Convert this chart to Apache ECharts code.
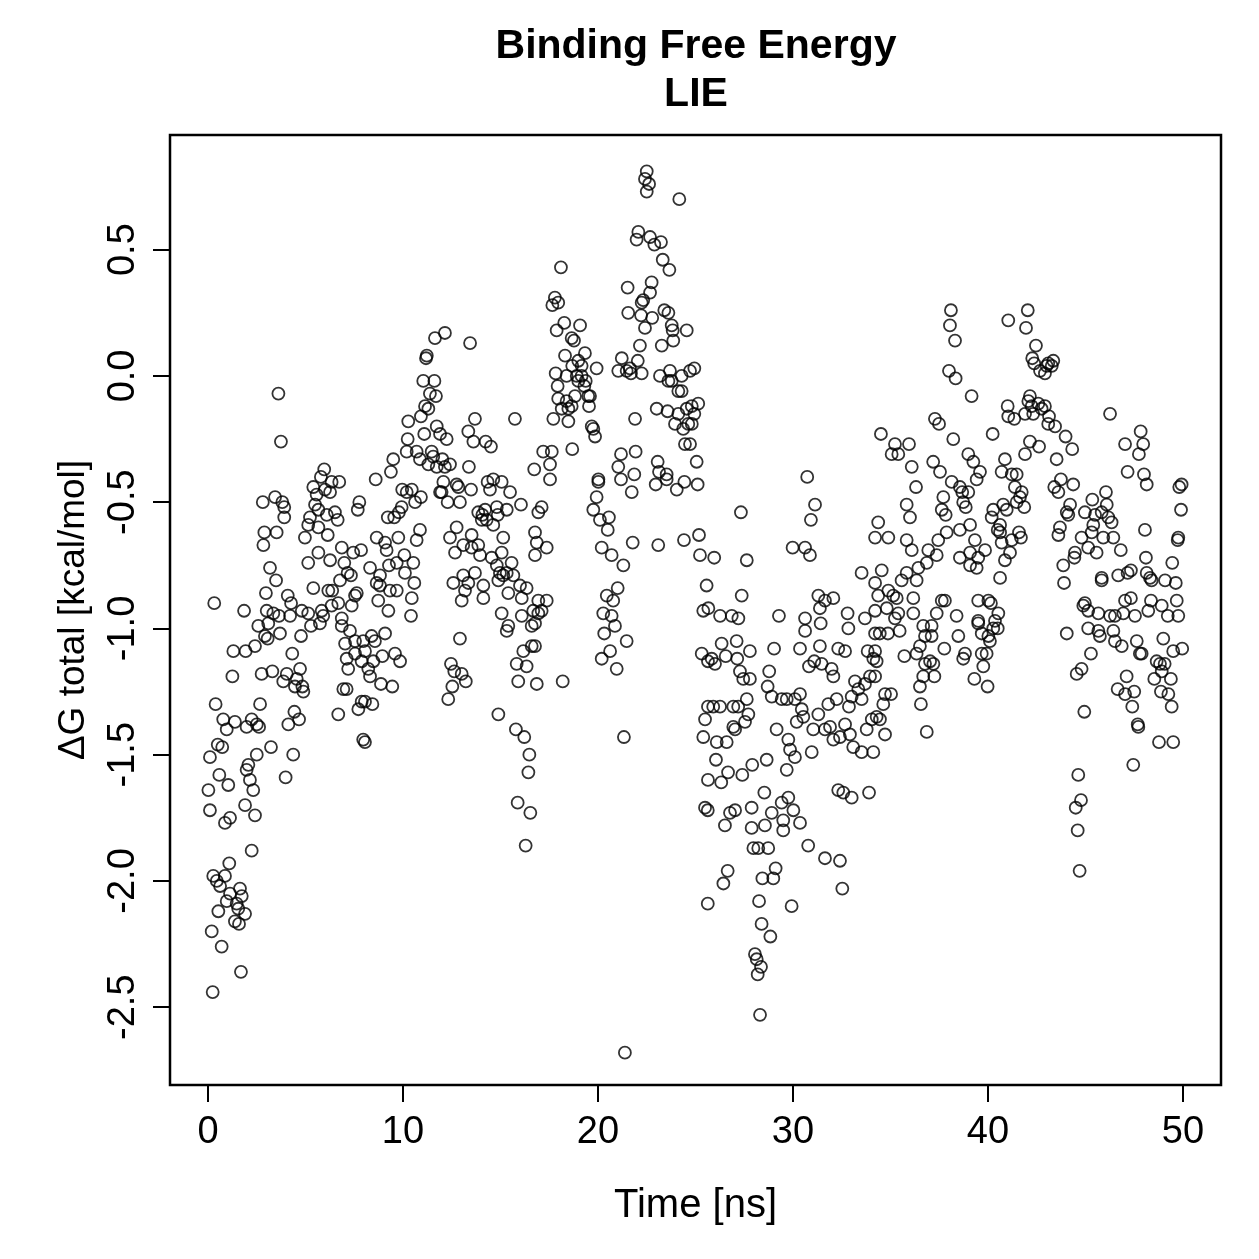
<!DOCTYPE html>
<html>
<head>
<meta charset="utf-8">
<title>Binding Free Energy - LIE</title>
<script src="https://cdn.jsdelivr.net/npm/echarts@6.0.0/dist/echarts.min.js"></script>
<style>
  html, body { margin: 0; padding: 0; background: #fff; }
  #chart { width: 1259px; height: 1259px; }
</style>
</head>
<body>
<div id="chart"></div>
<script>
// [time (ns), dG total (kcal/mol)], grouped by time window
var seg0to8 = [
  [3.61,-0.07],[3.74,-0.26],[5.96,-0.37],[5.79,-0.40],[5.40,-0.44],[6.34,-0.42],[6.73,-0.42],[6.00,-0.45],[6.26,-0.46],[5.57,-0.47],
  [2.81,-0.50],[3.44,-0.48],[3.81,-0.50],[3.91,-0.52],[3.91,-0.56],[5.49,-0.51],[5.66,-0.53],[6.09,-0.55],[6.51,-0.54],[6.65,-0.57],
  [5.23,-0.56],[5.14,-0.59],[5.66,-0.60],[6.14,-0.63],[4.97,-0.64],[7.76,-0.50],[7.68,-0.53],[2.89,-0.62],[2.84,-0.67],[3.52,-0.62],
  [6.86,-0.68],[7.85,-0.69],[7.45,-0.70],[6.26,-0.73],[5.66,-0.70],[5.14,-0.74],[6.99,-0.74],[3.18,-0.76],[3.49,-0.81],[7.16,-0.78],
  [7.33,-0.79],[6.77,-0.81],[5.40,-0.84],[2.97,-0.86],[0.32,-0.90],[1.85,-0.93],[4.09,-0.87],[4.26,-0.90],[6.17,-0.85],[6.37,-0.85],
  [6.68,-0.90],[6.34,-0.91],[7.63,-0.86],[7.54,-0.87],[7.37,-0.91],[3.01,-0.93],[3.35,-0.94],[4.81,-0.93],[5.14,-0.94],[5.83,-0.93],
  [5.91,-0.95],[6.86,-0.96],
  [4.21,-0.95],[3.64,-0.95],[2.58,-0.99],[3.09,-0.98],[2.92,-1.03],[3.06,-1.04],[3.69,-1.02],[4.77,-1.03],[5.28,-0.99],[5.74,-0.98],
  [6.86,-0.99],[7.28,-1.01],[7.03,-1.06],[7.54,-1.05],[7.96,-1.05],[7.54,-1.10],[7.11,-1.12],[7.88,-1.13],[7.19,-1.16],
  [1.30,-1.09],[1.93,-1.09],[2.41,-1.07],[4.32,-1.10],[1.25,-1.19],[2.75,-1.18],[3.30,-1.17],[4.04,-1.18],[3.86,-1.21],[4.72,-1.16],
  [4.55,-1.20],[4.46,-1.23],[4.84,-1.23],[4.89,-1.25],[6.94,-1.24],[7.11,-1.24],[7.88,-1.29],[7.71,-1.32],[6.68,-1.34],[0.39,-1.30],
  [2.67,-1.30],[0.78,-1.36],[1.38,-1.37],[0.96,-1.40],[1.98,-1.39],[2.24,-1.36],[2.50,-1.38],[2.62,-1.39],[4.43,-1.33],[4.67,-1.36],
  [4.12,-1.38],[7.96,-1.44],[8.05,-1.45],[0.50,-1.46],[0.73,-1.47],[0.10,-1.51],[3.23,-1.47],[2.50,-1.50],[4.37,-1.50],[2.07,-1.54],
  [1.98,-1.56],[2.15,-1.60],[3.98,-1.59],[0.58,-1.58],[1.04,-1.62],[0.02,-1.64],[2.32,-1.64],[0.10,-1.72],[1.90,-1.70],[2.41,-1.74],
  [1.13,-1.75],[0.87,-1.77],[2.24,-1.88],[1.09,-1.93],[0.27,-1.98],[0.45,-2.00],[0.87,-1.98],[0.62,-2.02],[1.13,-2.05],[1.64,-2.03],
  [1.73,-2.06],[0.96,-2.08],[1.47,-2.09],[1.55,-2.11],[0.53,-2.12],[1.90,-2.13],[1.38,-2.16],[1.59,-2.17],[0.19,-2.20],[0.70,-2.26],
  [1.69,-2.36],[0.24,-2.44]
];
var seg8to17 = [
  [12.15,0.17],[11.64,0.15],[13.44,0.13],[11.22,0.08],[11.18,0.07],[11.04,-0.02],[11.61,-0.02],[11.38,-0.07],[11.69,-0.08],[11.13,-0.12],
  [11.30,-0.13],[10.92,-0.16],[10.27,-0.18],[13.69,-0.17],[15.74,-0.17],[11.73,-0.20],[11.09,-0.23],[11.90,-0.23],[12.24,-0.25],[13.35,-0.22],
  [13.61,-0.26],[14.24,-0.26],[14.51,-0.28],[10.24,-0.25],[10.19,-0.30],[10.70,-0.30],[10.87,-0.33],[11.47,-0.30],[11.55,-0.32],[11.30,-0.35],
  [11.73,-0.36],[12.02,-0.33],[12.15,-0.36],[12.41,-0.35],[9.50,-0.33],[9.38,-0.38],[8.60,-0.41],[13.38,-0.36],[16.73,-0.37],
  [12.07,-0.42],[12.75,-0.43],[12.84,-0.44],[13.49,-0.45],[11.98,-0.46],[11.90,-0.46],[12.29,-0.50],[12.92,-0.50],[14.34,-0.42],[14.63,-0.41],
  [15.06,-0.42],[14.46,-0.45],[15.49,-0.46],[9.96,-0.45],[10.19,-0.46],[10.45,-0.45],[10.92,-0.48],[10.62,-0.50],[9.93,-0.52],[9.79,-0.54],
  [9.55,-0.56],[9.22,-0.56],[13.86,-0.54],[14.07,-0.55],[14.21,-0.53],[14.29,-0.57],[14.86,-0.55],[14.81,-0.52],[15.32,-0.53],[16.05,-0.51],
  [16.94,-0.54],[14.04,-0.57],[14.63,-0.59],[15.14,-0.64],[12.75,-0.60],[12.41,-0.64],[13.52,-0.63],[13.09,-0.67],[13.86,-0.67],[13.52,-0.68],
  [12.67,-0.70],[13.95,-0.71],[14.55,-0.72],[15.06,-0.70],[10.87,-0.61],[10.70,-0.65],[9.76,-0.64],[8.65,-0.64],[9.08,-0.66],[9.16,-0.69],
  [10.07,-0.71],[10.53,-0.74],[9.68,-0.74],[9.28,-0.75],[8.31,-0.76],[16.77,-0.62],[16.77,-0.71],[15.57,-0.74],[14.81,-0.75],[14.97,-0.78],
  [15.32,-0.78],[15.66,-0.79],[15.14,-0.79],[14.89,-0.81],[13.69,-0.78],[12.58,-0.82],[13.09,-0.79],[13.35,-0.82],[13.18,-0.85],[14.12,-0.83],
  [13.01,-0.89],[14.12,-0.88],[15.40,-0.86],[16.00,-0.83],[16.34,-0.84],[16.09,-0.88],[8.82,-0.79],[8.65,-0.82],[8.82,-0.83],[9.33,-0.85],
  [9.68,-0.85],[10.10,-0.78],[10.58,-0.82],[10.45,-0.88],[8.73,-0.89],[9.25,-0.93],[10.41,-0.95],[15.06,-0.94],[16.09,-0.95],[16.68,-0.93],
  [16.94,-0.89],
  [16.94,-0.94],[15.40,-0.99],[15.32,-1.01],[16.60,-0.99],[8.39,-1.03],[9.08,-1.02],[8.56,-1.05],[8.05,-1.09],[8.94,-1.11],[9.59,-1.10],
  [9.85,-1.13],[8.48,-1.13],[8.22,-1.16],[8.31,-1.19],[8.87,-1.22],[9.45,-1.23],[8.43,-1.30],[8.05,-1.29],[12.92,-1.04],[12.46,-1.14],
  [12.63,-1.17],[13.01,-1.18],[13.22,-1.21],[12.53,-1.23],[12.32,-1.28],[16.17,-1.09],[16.60,-1.07],[15.83,-1.14],[16.34,-1.15],[15.91,-1.21],
  [16.86,-1.22],[14.89,-1.34],[15.79,-1.40],[16.22,-1.43],[16.48,-1.50],[16.43,-1.57],[15.88,-1.69],[16.53,-1.73],[16.29,-1.86]
];
var seg17to26 = [
  [22.50,0.81],[22.41,0.78],[22.62,0.76],[22.50,0.73],[24.17,0.70],[22.07,0.57],[21.98,0.54],[22.67,0.55],[22.89,0.52],[23.23,0.53],
  [23.32,0.46],[23.66,0.42],[18.10,0.43],[21.52,0.35],[22.75,0.37],[22.67,0.33],[22.32,0.30],[22.24,0.29],[17.79,0.31],[17.96,0.29],
  [17.66,0.28],[21.55,0.25],[22.21,0.24],[22.78,0.23],[23.40,0.26],[23.61,0.25],[22.41,0.19],[23.78,0.20],[23.83,0.18],[24.55,0.18],
  [23.86,0.14],[23.27,0.12],[22.15,0.12],[18.27,0.21],[19.08,0.20],[17.88,0.18],[18.65,0.15],[18.77,0.14],[18.31,0.08],[19.33,0.09],
  [18.99,0.06],[19.16,0.04],[18.68,0.04],[19.93,0.03],[17.83,0.01],[18.39,0.00],[18.91,0.00],[19.16,0.00],[19.37,-0.02],[18.99,-0.02],
  [19.30,-0.04],[17.93,-0.04],[18.82,-0.08],[19.50,-0.08],[19.59,-0.08],[17.96,-0.09],[18.39,-0.10],[18.65,-0.12],[18.48,-0.13],[18.14,-0.13],
  [19.54,-0.12],[17.71,-0.17],[18.48,-0.18],[19.68,-0.20],[19.76,-0.21],[19.85,-0.24],[21.22,0.07],[21.04,0.02],[21.47,0.02],[21.64,0.03],
  [21.69,0.01],[22.04,0.06],[22.24,0.01],[23.18,0.00],[23.69,0.02],[23.61,-0.02],[23.78,-0.02],[24.29,0.00],[24.72,0.02],[24.94,0.03],
  [24.12,-0.06],[24.29,-0.06],[21.90,-0.17],[23.01,-0.13],[23.57,-0.14],[24.12,-0.15],[24.55,-0.13],[24.81,-0.12],[25.14,-0.11],[24.94,-0.15],
  [23.95,-0.19],[24.37,-0.21],[24.63,-0.19],[24.81,-0.19],[24.46,-0.27],[24.72,-0.27],[25.06,-0.34],[17.19,-0.30],[17.63,-0.30],[18.68,-0.29],
  [17.54,-0.35],[17.54,-0.41],[21.18,-0.31],[21.93,-0.30],[21.04,-0.36],[21.18,-0.41],[21.86,-0.39],[21.73,-0.46],[23.06,-0.34],[23.13,-0.38],
  [23.52,-0.39],[23.52,-0.41],[22.96,-0.43],[24.04,-0.45],[24.43,-0.42],[25.11,-0.43],[20.02,-0.41],[20.02,-0.42],[19.93,-0.48],[19.76,-0.53],
  [20.10,-0.57],[20.56,-0.56],[20.50,-0.61],[17.11,-0.52],[16.86,-0.66],[17.37,-0.68],[20.19,-0.68],[20.70,-0.71],[21.30,-0.75],[21.78,-0.66],
  [23.09,-0.67],[24.41,-0.65],[25.18,-0.63],[25.23,-0.71],[25.57,-0.83],[21.01,-0.84],[20.45,-0.87],[20.78,-0.89],[20.27,-0.94],[20.70,-0.95],
  [17.37,-0.89],[17.11,-0.93],[25.40,-0.93],[25.66,-0.92],
  [16.77,-0.98],[16.77,-1.07],[18.19,-1.21],[20.87,-0.99],[20.32,-1.02],[21.47,-1.05],[20.62,-1.09],[20.19,-1.12],[20.96,-1.16],[21.33,-1.43],
  [21.38,-2.68],[25.32,-1.10],[25.49,-1.36],[25.40,-1.43],[25.64,-1.60],[25.49,-1.71],[25.63,-1.72],[25.63,-2.09],[25.64,-1.13],[25.64,-1.31]
];
var seg26to34 = [
  [30.73,-0.40],[31.13,-0.51],[30.92,-0.57],[27.33,-0.54],[29.98,-0.68],[30.62,-0.68],[30.87,-0.71],[27.63,-0.73],[25.96,-0.72],[33.52,-0.78],
  [27.37,-0.87],[31.30,-0.87],[31.64,-0.89],[32.07,-0.88],[31.38,-0.92],[34.21,-0.93],[29.28,-0.95],[32.80,-0.94],[26.26,-0.95],[26.86,-0.95],
  [27.20,-0.96],[30.62,-0.96],[33.69,-0.96],
  [31.42,-0.98],[30.62,-1.01],[32.84,-1.00],[34.21,-1.02],[26.34,-1.06],[27.11,-1.05],[27.79,-1.09],[26.55,-1.11],[25.83,-1.12],[26.00,-1.14],
  [27.14,-1.12],[29.03,-1.08],[30.36,-1.08],[31.38,-1.07],[32.32,-1.08],[32.67,-1.09],[33.83,-1.09],[34.12,-1.12],[28.78,-1.17],[27.28,-1.17],
  [27.45,-1.20],[27.79,-1.20],[28.70,-1.23],[28.91,-1.27],[29.42,-1.28],[29.68,-1.28],[30.10,-1.28],[30.36,-1.26],[30.82,-1.15],[31.09,-1.13],
  [31.47,-1.14],[31.98,-1.16],[32.07,-1.19],[33.18,-1.21],[33.35,-1.24],[33.69,-1.22],[33.95,-1.19],[33.01,-1.27],[33.52,-1.28],[32.87,-1.31],
  [31.81,-1.30],[32.24,-1.28],[30.45,-1.32],[30.53,-1.35],[31.30,-1.34],[30.19,-1.37],[31.04,-1.40],[31.64,-1.40],[31.90,-1.39],[32.07,-1.44],
  [32.41,-1.43],[32.67,-1.38],[32.92,-1.42],[33.09,-1.47],[33.52,-1.49],[34.12,-1.49],[33.78,-1.40],[34.04,-1.36],[34.29,-1.35],[29.16,-1.40],
  [29.76,-1.44],[29.85,-1.48],[30.10,-1.51],[30.96,-1.49],[25.91,-1.31],[26.26,-1.31],[26.94,-1.31],[27.19,-1.31],[27.63,-1.28],[27.71,-1.34],
  [27.54,-1.37],[26.94,-1.39],[27.03,-1.40],[26.09,-1.45],[26.60,-1.45],[26.05,-1.52],[26.32,-1.61],[26.67,-1.57],[27.40,-1.58],[27.91,-1.54],
  [28.65,-1.52],[29.68,-1.56],[28.53,-1.65],[29.76,-1.67],[29.42,-1.69],[30.02,-1.72],[28.91,-1.73],[29.50,-1.76],[30.36,-1.77],[26.51,-1.78],
  [26.77,-1.73],[27.03,-1.72],[27.88,-1.71],[27.88,-1.79],[28.56,-1.78],[29.50,-1.80],[27.97,-1.87],[28.22,-1.87],[28.73,-1.87],[30.78,-1.86],
  [31.64,-1.91],[32.41,-1.92],[32.53,-2.03],[26.65,-1.96],[26.43,-2.01],[28.43,-1.99],[28.99,-1.99],[29.11,-1.95],[28.26,-2.08],[29.93,-2.10],
  [28.39,-2.17],[28.84,-2.22],[28.05,-2.29],[28.14,-2.31],[28.36,-2.34],[28.19,-2.37],[28.31,-2.53],[32.32,-1.64],[32.58,-1.65],[33.01,-1.67],
  [33.90,-1.65]
];
var seg34to43 = [
  [38.10,0.26],[38.05,0.20],[38.31,0.14],[38.00,0.02],[38.34,-0.01],[39.16,-0.08],[42.04,0.26],[41.04,0.22],[41.95,0.19],[42.46,0.12],
  [42.27,0.07],[42.37,0.05],[42.67,0.02],[42.92,0.01],[43.01,0.04],[43.09,0.05],[37.28,-0.17],[37.49,-0.19],[41.01,-0.12],[41.04,-0.16],
  [41.35,-0.17],[42.15,-0.08],[42.07,-0.10],[41.90,-0.15],[42.24,-0.12],[42.58,-0.11],[42.75,-0.13],[42.92,-0.12],[42.32,-0.15],[43.09,-0.19],
  [34.51,-0.23],[35.23,-0.27],[35.95,-0.27],[35.06,-0.31],[35.40,-0.31],[36.09,-0.36],[38.22,-0.25],[40.24,-0.23],[42.15,-0.26],[42.62,-0.28],
  [41.90,-0.31],[37.19,-0.34],[37.54,-0.38],[38.99,-0.31],[39.25,-0.34],[39.59,-0.38],[39.42,-0.41],[40.87,-0.33],[40.70,-0.38],[41.22,-0.39],
  [41.47,-0.39],[41.38,-0.44],[41.73,-0.46],[41.64,-0.48],[36.31,-0.44],[38.14,-0.42],[38.56,-0.44],[38.68,-0.46],[38.99,-0.46],[37.71,-0.48],
  [35.83,-0.51],[36.00,-0.56],[37.63,-0.53],[37.83,-0.55],[38.73,-0.50],[38.86,-0.52],[40.27,-0.53],[40.78,-0.51],[40.96,-0.53],[41.47,-0.50],
  [41.86,-0.52],[40.19,-0.56],[40.62,-0.59],[40.50,-0.61],[34.37,-0.58],[34.21,-0.64],[34.89,-0.64],[35.83,-0.65],[36.09,-0.69],[37.45,-0.65],
  [37.88,-0.62],[38.56,-0.61],[39.08,-0.59],[39.33,-0.65],[39.85,-0.69],[39.50,-0.72],[38.56,-0.72],[39.08,-0.70],[39.08,-0.75],[39.42,-0.76],
  [40.62,-0.62],[41.22,-0.65],[41.59,-0.62],[41.69,-0.64],[40.70,-0.66],[41.13,-0.70],[40.87,-0.73],[40.62,-0.80],[36.94,-0.69],[36.86,-0.74],
  [37.37,-0.71],[36.43,-0.76],[34.55,-0.77],[35.83,-0.78],[35.57,-0.81],[36.34,-0.81],[34.89,-0.85],[35.14,-0.87],[35.32,-0.88],[34.21,-0.82],
  [34.37,-0.87],[36.17,-0.88],[37.63,-0.89],[37.79,-0.89],[39.50,-0.89],[40.02,-0.89],[40.15,-0.90],[34.81,-0.92],[35.40,-0.94],[36.17,-0.94],
  [37.37,-0.94],[38.39,-0.95],[40.53,-0.94],[39.50,-0.97],
  [35.23,-0.96],[34.45,-1.02],[34.87,-1.02],[35.47,-1.01],[36.68,-0.99],[37.11,-0.99],[36.77,-1.03],[37.11,-1.03],[38.48,-1.03],[39.50,-0.98],
  [39.68,-1.02],[40.02,-1.03],[40.10,-1.05],[40.36,-0.97],[40.27,-1.00],[40.50,-1.00],[34.21,-1.09],[34.29,-1.13],[35.71,-1.11],[36.34,-1.10],
  [36.51,-1.07],[37.76,-1.08],[36.77,-1.14],[37.03,-1.13],[37.20,-1.14],[38.82,-1.10],[38.73,-1.12],[39.68,-1.10],[39.93,-1.10],[39.76,-1.15],
  [36.68,-1.19],[37.25,-1.19],[36.51,-1.23],[39.30,-1.20],[39.98,-1.23],[34.21,-1.19],[34.72,-1.26],[35.03,-1.26],[34.63,-1.30],[36.56,-1.30],
  [34.46,-1.36],[34.72,-1.42],[36.86,-1.41]
];
var seg43to50 = [
  [43.35,0.06],[43.27,0.04],[43.13,-0.16],[43.44,-0.20],[46.26,-0.15],[43.98,-0.24],[44.32,-0.29],[43.52,-0.33],[47.03,-0.27],[47.83,-0.22],
  [47.96,-0.27],[47.74,-0.31],[47.16,-0.38],[48.00,-0.39],[48.14,-0.43],[43.74,-0.41],[43.40,-0.44],[43.61,-0.46],[44.37,-0.43],[49.93,-0.43],
  [49.81,-0.44],[49.90,-0.53],[45.35,-0.49],[46.05,-0.46],[46.09,-0.51],[45.49,-0.55],[44.97,-0.54],[45.83,-0.54],[46.17,-0.56],[46.34,-0.58],
  [45.40,-0.59],[45.32,-0.62],[45.91,-0.64],[46.43,-0.64],[44.80,-0.64],[45.14,-0.68],[45.57,-0.70],[44.21,-0.51],[44.04,-0.54],[44.12,-0.55],
  [43.69,-0.60],[43.61,-0.63],[44.46,-0.70],[44.43,-0.72],[43.86,-0.75],[43.90,-0.82],[46.81,-0.69],[48.05,-0.61],[48.10,-0.72],[49.45,-0.74],
  [49.76,-0.64],[49.73,-0.65],[46.68,-0.79],[47.16,-0.78],[47.33,-0.77],[45.83,-0.80],[45.83,-0.81],[48.14,-0.78],[48.31,-0.80],[48.39,-0.81],
  [49.08,-0.81],[49.63,-0.82],[44.97,-0.90],[44.89,-0.91],[45.14,-0.93],[45.66,-0.94],[46.26,-0.95],[46.51,-0.95],[46.94,-0.94],[47.03,-0.89],
  [47.33,-0.88],[47.54,-0.95],[48.36,-0.89],[48.22,-0.93],[48.91,-0.91],[49.22,-0.95],[49.68,-0.89],[49.76,-0.95],
  [44.04,-1.02],[45.14,-1.00],[45.66,-1.01],[45.74,-1.03],[46.43,-1.01],[46.51,-1.05],[46.86,-1.07],[47.63,-1.05],[47.88,-1.10],[47.79,-1.10],
  [48.99,-1.04],[49.50,-1.09],[49.96,-1.08],[45.28,-1.10],[48.65,-1.13],[48.82,-1.14],[48.91,-1.17],[49.06,-1.14],[48.53,-1.20],[49.38,-1.20],
  [48.87,-1.25],[49.25,-1.26],[49.42,-1.31],[44.80,-1.16],[44.55,-1.18],[47.11,-1.19],[46.65,-1.24],[47.03,-1.26],[47.50,-1.25],[47.40,-1.31],
  [44.94,-1.33],[47.68,-1.38],[47.71,-1.39],[48.77,-1.45],[49.50,-1.45],[47.45,-1.54],[44.63,-1.58],[44.77,-1.68],[44.50,-1.71],[44.60,-1.80],
  [44.70,-1.96]
];

var xTicks = [0, 10, 20, 30, 40, 50];
var yTicks = [-2.5, -2.0, -1.5, -1.0, -0.5, 0.0, 0.5];

var allPoints = seg0to8.concat(seg8to17, seg17to26, seg26to34, seg34to43, seg43to50);

var font = '"Liberation Sans", Arial, Helvetica, sans-serif';
var chart = echarts.init(document.getElementById('chart'), null, {renderer: 'canvas'});

var option = {
    backgroundColor: '#ffffff',
    animation: false,
    graphic: [
        {
            type: 'text', x: 696, y: 47,
            style: {text: 'Binding Free Energy', fill: '#000', font: 'bold 41px ' + font,
                textAlign: 'center', textVerticalAlign: 'middle'}
        },
        {
            type: 'text', x: 696, y: 95,
            style: {text: 'LIE', fill: '#000', font: 'bold 41px ' + font,
                textAlign: 'center', textVerticalAlign: 'middle'}
        }
    ],
    grid: {
        left: 170,
        right: 38,
        top: 135,
        bottom: 174,
        show: true,
        borderColor: '#000',
        borderWidth: 2.5,
        backgroundColor: 'transparent'
    },
    xAxis: {
        type: 'value',
        min: -1.949,
        max: 51.95,
        name: 'Time [ns]',
        nameLocation: 'middle',
        nameGap: 101,
        nameTextStyle: {fontSize: 40, color: '#000', fontFamily: font},
        axisLine: {show: false, onZero: false},
        splitLine: {show: false},
        axisTick: {
            show: true,
            length: 17,
            customValues: xTicks,
            lineStyle: {color: '#000', width: 2}
        },
        axisLabel: {
            customValues: xTicks,
            fontSize: 38,
            color: '#000',
            fontFamily: font,
            margin: 29
        }
    },
    yAxis: {
        type: 'value',
        min: -2.808,
        max: 0.954,
        name: 'ΔG total [kcal/mol]',
        nameLocation: 'middle',
        nameGap: 78,
        nameTextStyle: {fontSize: 37, color: '#000', fontFamily: font},
        axisLine: {show: false, onZero: false},
        splitLine: {show: false},
        axisTick: {
            show: true,
            length: 17,
            customValues: yTicks,
            lineStyle: {color: '#000', width: 2}
        },
        axisLabel: {
            customValues: yTicks,
            rotate: 90,
            fontSize: 38,
            color: '#000',
            fontFamily: font,
            margin: 27,
            formatter: function (v) {
                return v.toFixed(1);
            }
        }
    },
    series: [
        {
            name: 'LIE',
            type: 'scatter',
            symbol: 'circle',
            symbolSize: 12,
            itemStyle: {
                color: 'rgba(0,0,0,0)',
                borderColor: '#000',
                borderWidth: 1.8
            },
            emphasis: {disabled: true},
            data: allPoints
        }
    ]
};
chart.setOption(option);
</script>
</body>
</html>
